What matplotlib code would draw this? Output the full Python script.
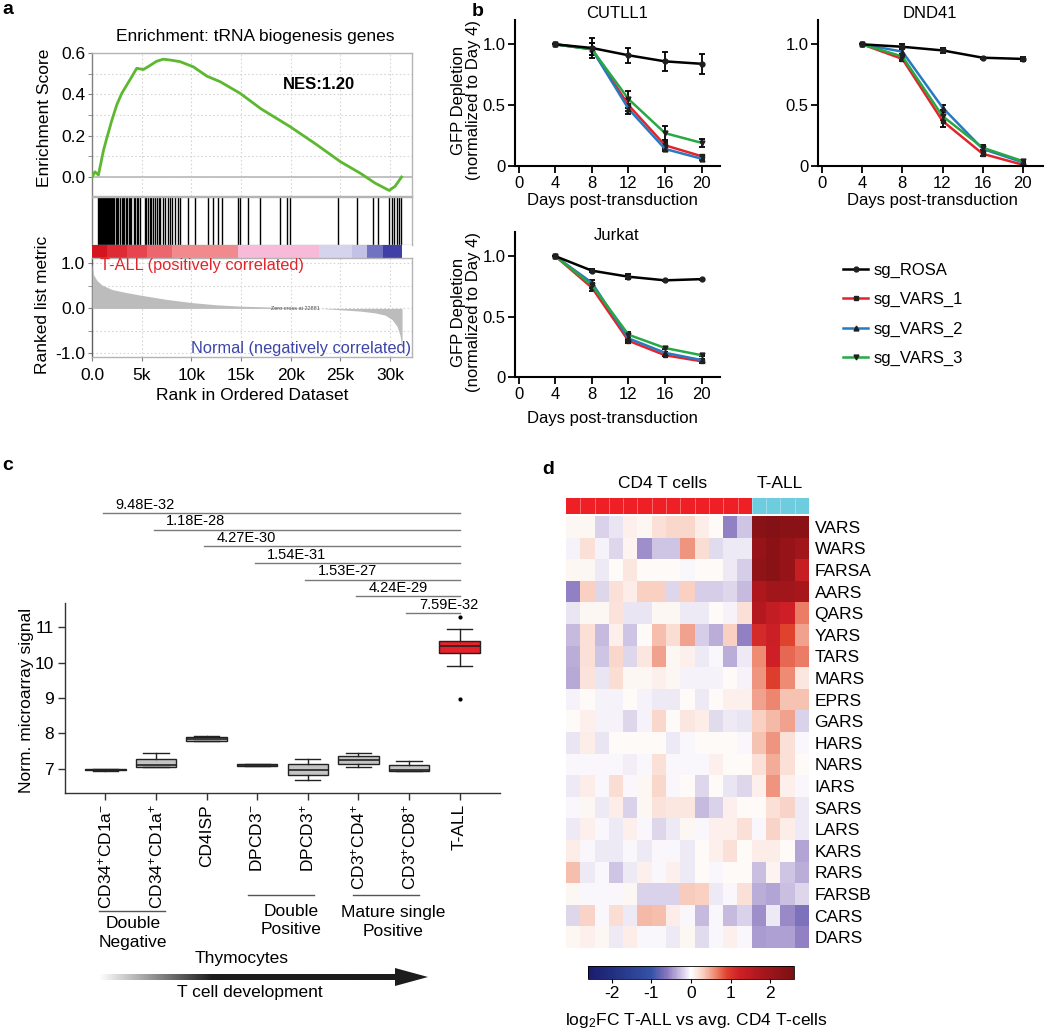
import numpy as np
import matplotlib.pyplot as plt
from matplotlib import font_manager
from matplotlib.colors import LinearSegmentedColormap, ListedColormap
from matplotlib.patches import Polygon

plt.rcParams['font.family'] = ['Liberation Sans', 'DejaVu Sans']
plt.rcParams['mathtext.fontset'] = 'custom'
plt.rcParams['mathtext.rm'] = 'Liberation Sans'
plt.rcParams['mathtext.it'] = 'Liberation Sans:italic'
plt.rcParams['mathtext.bf'] = 'Liberation Sans:bold'
plt.rcParams['axes.linewidth'] = 1.0

# panel b uses a condensed face in the original
_names = {f.name for f in font_manager.fontManager.ttflist}
if 'Liberation Sans Narrow' in _names:
    NARROW, BSIZE = 'Liberation Sans Narrow', 13
else:
    NARROW, BSIZE = 'Liberation Sans', 11.5

# ---------------- panel a : GSEA ----------------
es_rank = [0, 300, 650, 1160, 1500, 2000, 2500, 3000, 3500, 4000, 4500, 5170, 5850,
           6500, 7180, 8000, 8870, 10200, 11560, 12900, 14900, 17000, 19950, 22500,
           25000, 27000, 28500, 29900, 30500, 31150]
es_val = [0.0, 0.025, 0.01, 0.13, 0.19, 0.275, 0.35, 0.405, 0.445, 0.485, 0.526, 0.52,
          0.54, 0.56, 0.57, 0.565, 0.558, 0.533, 0.488, 0.461, 0.405, 0.33, 0.243, 0.16,
          0.074, 0.018, -0.03, -0.065, -0.045, 0.0]
hit_ranks = [640, 720, 800, 950, 1050, 1150, 1230, 1300, 1420, 1500, 1620, 1700, 1780,
             1900, 2050, 2150, 2250, 2400, 2500, 2600, 2850, 3000, 3100, 3250, 3400, 3480,
             3700, 3800, 3950, 4200, 4350, 4500, 4600, 4800, 5300, 5450, 5600, 5800, 5950,
             6100, 6300, 6500, 6700, 6850, 7100, 7300, 7600, 7850, 8100, 8400, 8700, 8900,
             9650, 10400, 11700, 12200, 12700, 13050, 14700, 14900, 15700, 16900, 18900,
             19600, 19950, 24800, 26650, 28300, 28750, 29900, 30150, 30400, 30650, 30900,
             31100]
metric_rank = [0, 150, 500, 1000, 2000, 3500, 5000, 7500, 10000, 12500, 15000, 18000,
               20000, 22881, 25000, 27000, 28500, 29500, 30200, 30700, 31000, 31200]
metric_val = [1.0, 0.75, 0.62, 0.52, 0.42, 0.35, 0.29, 0.2, 0.13, 0.08, 0.05, 0.03, 0.02,
              0.0, -0.03, -0.06, -0.1, -0.15, -0.25, -0.4, -0.6, -0.9]
band_edges = [0, 1500, 3500, 5500, 8000, 14700, 22800, 26200, 27700, 29300, 31200]
band_colors = ['#d3141f', '#dd2a35', '#e6444f', '#ec6670', '#f18a8c', '#f7bad8',
               '#d6d3ee', '#c3c1e6', '#7272c2', '#3f3fa6']

# ---------------- panel b : GFP depletion ----------------
days = [4, 8, 12, 16, 20]
guides = ['sg_ROSA', 'sg_VARS_1', 'sg_VARS_2', 'sg_VARS_3']
cutll1_mean = [[1.0, 0.97, 0.91, 0.86, 0.84],
               [1.0, 0.96, 0.50, 0.17, 0.08],
               [1.0, 0.96, 0.47, 0.14, 0.06],
               [1.0, 0.96, 0.55, 0.27, 0.19]]
cutll1_sd = [[0, 0.08, 0.06, 0.08, 0.08],
             [0, 0.05, 0.05, 0.03, 0.01],
             [0, 0.05, 0.04, 0.02, 0.01],
             [0, 0.05, 0.07, 0.06, 0.03]]
dnd41_mean = [[1.0, 0.98, 0.95, 0.89, 0.88],
              [1.0, 0.88, 0.37, 0.10, 0.01],
              [1.0, 0.94, 0.48, 0.14, 0.03],
              [1.0, 0.90, 0.41, 0.15, 0.04]]
dnd41_sd = [[0, 0.02, 0.02, 0.01, 0.02],
            [0, 0.02, 0.05, 0.02, 0.02],
            [0, 0.02, 0.02, 0.02, 0.01],
            [0, 0.02, 0.03, 0.02, 0.01]]
jurkat_mean = [[1.0, 0.88, 0.83, 0.80, 0.81],
               [1.0, 0.74, 0.30, 0.18, 0.13],
               [1.0, 0.78, 0.32, 0.20, 0.14],
               [1.0, 0.76, 0.35, 0.24, 0.18]]
jurkat_sd = [[0, 0.015, 0.02, 0.005, 0.005],
             [0, 0.03, 0.015, 0.01, 0.01],
             [0, 0.02, 0.02, 0.01, 0.01],
             [0, 0.02, 0.02, 0.01, 0.005]]
guide_colors = ['black', '#e3242b', '#2a78c0', '#27a844']
guide_markers = ['o', 's', '^', 'v']

# ---------------- panel c : boxplots ----------------
c_groups = ['CD34$^{+}$CD1a$^{-}$', 'CD34$^{+}$CD1a$^{+}$', 'CD4ISP', 'DPCD3$^{-}$',
            'DPCD3$^{+}$', 'CD3$^{+}$CD4$^{+}$', 'CD3$^{+}$CD8$^{+}$', 'T-ALL']
c_med = [6.97, 7.10, 7.85, 7.11, 6.98, 7.26, 6.96, 10.47]
c_q1 = [6.955, 7.06, 7.80, 7.09, 6.84, 7.13, 6.94, 10.28]
c_q3 = [6.985, 7.29, 7.91, 7.14, 7.15, 7.37, 7.10, 10.62]
c_lo = [6.95, 7.05, 7.78, 7.08, 6.70, 7.04, 6.94, 9.89]
c_hi = [6.99, 7.45, 7.93, 7.15, 7.29, 7.46, 7.22, 10.94]
c_fliers = [[], [], [], [], [], [], [], [11.28, 8.97]]
c_pvals = ['9.48E-32', '1.18E-28', '4.27E-30', '1.54E-31', '1.53E-27', '4.24E-29', '7.59E-32']

# ---------------- panel d : heatmap ----------------
genes = ['VARS', 'WARS', 'FARSA', 'AARS', 'QARS', 'YARS', 'TARS', 'MARS', 'EPRS', 'GARS',
         'HARS', 'NARS', 'IARS', 'SARS', 'LARS', 'KARS', 'RARS', 'FARSB', 'CARS', 'DARS']
n_cd4 = 13
n_tall = 4
hm_values = [
    [0.05, 0.05, -0.2, -0.12, 0.1, 0.05, 0.2, 0.25, 0.25, 0.12, 0.03, -0.55, -0.25, 2.35, 2.4, 2.35, 2.3],
    [-0.05, 0.2, -0.05, -0.18, 0.08, -0.5, -0.25, -0.25, 0.55, 0.22, -0.15, -0.1, -0.1, 2.1, 2.3, 2.1, 1.9],
    [0.05, 0.05, -0.1, 0.03, 0.15, 0.04, 0.04, 0.04, -0.04, 0.04, 0.04, -0.1, -0.22, 2.2, 2.35, 2.1, 1.3],
    [-0.55, 0.3, -0.18, 0.2, 0.12, 0.3, 0.3, -0.18, 0.3, -0.22, -0.22, -0.18, -0.3, 1.7, 1.9, 1.9, 1.8],
    [-0.12, 0.05, 0.05, 0.17, -0.12, -0.12, 0.05, 0.05, -0.1, -0.1, 0.04, -0.05, 0.2, 1.6, 1.4, 1.2, 0.65],
    [-0.3, 0.2, -0.3, 0.1, -0.25, 0.04, 0.38, 0.22, 0.5, -0.22, -0.35, 0.3, -0.55, 1.1, 1.25, 0.9, 0.5],
    [-0.35, 0.2, -0.25, 0.25, -0.18, 0.15, 0.5, 0.05, 0.1, -0.1, -0.04, -0.35, -0.1, 0.6, 1.2, 0.75, 0.65],
    [-0.38, 0.18, -0.12, 0.22, 0.06, 0.06, 0.1, 0.06, -0.05, -0.05, -0.05, 0.03, -0.05, 0.55, 0.95, 0.6, 0.15],
    [-0.05, 0.04, -0.05, -0.05, 0.04, -0.05, -0.1, -0.1, 0.04, -0.1, 0.04, 0.1, 0.1, 0.5, 0.62, 0.35, 0.35],
    [0.04, 0.1, -0.05, -0.05, -0.18, -0.05, 0.25, 0.04, 0.15, 0.12, -0.15, -0.1, -0.12, 0.3, 0.4, 0.5, -0.2],
    [-0.12, 0.12, -0.12, 0.04, 0.04, 0.04, 0.04, -0.1, -0.03, 0.04, 0.04, 0.04, -0.04, 0.35, 0.55, 0.2, -0.04],
    [-0.04, -0.04, -0.04, -0.04, -0.08, -0.04, 0.2, -0.04, -0.04, -0.04, 0.1, 0.04, 0.04, 0.2, 0.45, 0.2, 0.04],
    [-0.1, 0.12, -0.04, 0.22, -0.04, 0.06, 0.25, -0.04, 0.04, -0.18, 0.04, -0.12, -0.18, 0.1, 0.55, 0.1, -0.04],
    [-0.04, 0.06, -0.1, 0.12, -0.2, 0.05, 0.18, 0.15, 0.15, -0.3, -0.2, 0.1, 0.04, 0.04, 0.2, 0.28, -0.1],
    [-0.1, 0.1, -0.04, -0.1, 0.1, -0.04, -0.18, -0.1, 0.05, -0.04, 0.1, 0.1, 0.2, -0.04, 0.28, 0.12, -0.1],
    [0.12, -0.04, -0.1, -0.1, -0.04, -0.1, -0.04, -0.04, -0.1, 0.04, 0.1, 0.2, 0.04, 0.12, 0.12, 0.04, -0.4],
    [0.38, -0.1, -0.04, -0.25, -0.1, 0.1, -0.04, 0.1, -0.1, 0.04, -0.04, 0.04, 0.04, -0.28, 0.08, -0.25, -0.35],
    [0.05, -0.04, -0.04, -0.04, 0.05, -0.2, -0.2, -0.2, 0.32, 0.3, -0.1, -0.04, 0.2, -0.35, -0.4, -0.28, -0.18],
    [-0.18, 0.28, -0.04, 0.22, -0.1, 0.4, 0.38, 0.12, -0.04, -0.3, -0.04, -0.3, -0.2, -0.5, -0.1, -0.52, -0.66],
    [0.05, 0.1, 0.05, -0.1, 0.12, -0.04, -0.04, -0.1, 0.05, -0.15, -0.04, 0.1, -0.04, -0.44, -0.42, -0.42, -0.55],
]

W, H = 1050, 1032
fig = plt.figure(figsize=(W / 100, H / 100), dpi=100)


def px_axes(l, t, r, b):
    # axes placed by pixel edges (top-left origin)
    return fig.add_axes([l / W, 1 - b / H, (r - l) / W, (b - t) / H])


# ===== panel a =====
gcol = '#b4b4b4'
ax_es = px_axes(92, 53, 412, 196)
ax_es.plot(es_rank, es_val, color='#5cb82e', lw=2, zorder=3)
ax_es.axhline(0, color='#bdbdbd', lw=1.3, zorder=2)
ax_es.set_xlim(0, 32200)
ax_es.set_ylim(-0.092, 0.6)
ax_es.set_yticks([0, 0.2, 0.4, 0.6])
ax_es.set_yticklabels(['0.0', '0.2', '0.4', '0.6'], fontsize=12.5)
ax_es.set_yticks(np.arange(0.1, 0.6, 0.2), minor=True)
ax_es.set_xticks(range(5000, 31000, 5000))
ax_es.tick_params(axis='x', length=0, labelbottom=False)
ax_es.tick_params(axis='y', which='both', length=3, color='#808080', pad=2)
ax_es.grid(which='both', ls=(0, (1.5, 2)), color='#d6d6d6', lw=0.8)
for s in ax_es.spines.values():
    s.set_color(gcol)
ax_es.spines['left'].set_color('#808080')
ax_es.text(0.71, 0.78, 'NES:1.20', transform=ax_es.transAxes, fontsize=12,
           fontweight='bold', ha='center', va='center')

ax_hit = px_axes(92, 197, 412, 245)
ax_hit.vlines(hit_ranks, 0, 1, color='black', lw=1)
ax_hit.set_xlim(0, 32200)
ax_hit.set_ylim(0, 1)
ax_hit.set_xticks([])
ax_hit.set_yticks([])
for s in ax_hit.spines.values():
    s.set_color(gcol)
ax_hit.spines['left'].set_color('#808080')

ax_band = px_axes(92, 245, 412, 258)
for i, c in enumerate(band_colors):
    ax_band.axvspan(band_edges[i], band_edges[i + 1], color=c, lw=0)
ax_band.set_xlim(0, 32200)
ax_band.set_xticks([])
ax_band.set_yticks([])
for s in ax_band.spines.values():
    s.set_visible(False)

ax_m = px_axes(92, 258, 412, 357)
ax_m.fill_between(metric_rank, metric_val, 0, color='#bcbcbc', lw=0, zorder=3)
ax_m.set_xlim(0, 32200)
ax_m.set_ylim(-1.08, 1.12)
ax_m.set_yticks([-1, 0, 1])
ax_m.set_yticklabels(['-1.0', '0.0', '1.0'], fontsize=12.5)
ax_m.set_yticks([-0.5, 0.5], minor=True)
ax_m.set_xticks(range(0, 31000, 5000))
ax_m.set_xticklabels(['0.0', '5k', '10k', '15k', '20k', '25k', '30k'], fontsize=12.5)
ax_m.tick_params(axis='both', which='both', length=3, color='#808080', pad=5)
ax_m.tick_params(axis='y', pad=2)
ax_m.grid(which='both', ls=(0, (1.5, 2)), color='#d6d6d6', lw=0.8)
for s in ax_m.spines.values():
    s.set_color(gcol)
ax_m.spines['left'].set_color('#606060')
ax_m.text(22881, 0, 'Zero cross at 22881', fontsize=4, ha='right', va='center',
          color='#505050', zorder=4)
ax_m.text(800, 0.96, 'T-ALL (positively correlated)', color='#e2252b', fontsize=11.8,
          ha='left', va='center', zorder=4)
ax_m.text(32100, -0.88, 'Normal (negatively correlated)', color='#3c45a8', fontsize=11.8,
          ha='right', va='center', zorder=4)

# ===== panel b =====
def growth_panel(ax, means, sds):
    for k in range(len(guides)):
        ax.errorbar(days, means[k], yerr=sds[k], color=guide_colors[k], lw=1.8,
                    marker=guide_markers[k], ms=3.5, mfc='#202020', mec='#202020',
                    ecolor='black', elinewidth=1.3, capsize=2.2, capthick=1.3,
                    label=guides[k], zorder=3 if k == 0 else 2)
    ax.set_xlim(-0.4, 22)
    ax.set_ylim(0, 1.2)
    ax.set_xticks([0, 4, 8, 12, 16, 20])
    ax.set_yticks([0, 0.5, 1.0])
    ax.set_yticklabels(['0', '0.5', '1.0'])
    for lab in ax.get_xticklabels() + ax.get_yticklabels():
        lab.set_family(NARROW)
        lab.set_fontsize(BSIZE + 0.5)
    ax.tick_params(length=5, width=1.3, pad=2)
    ax.patch.set_alpha(0)
    ax.spines['top'].set_visible(False)
    ax.spines['right'].set_visible(False)
    ax.spines['left'].set_linewidth(1.5)
    ax.spines['bottom'].set_linewidth(1.5)


ax_b1 = px_axes(515, 20, 720, 166)
growth_panel(ax_b1, cutll1_mean, cutll1_sd)
ax_b2 = px_axes(818, 20, 1043, 166)
growth_panel(ax_b2, dnd41_mean, dnd41_sd)
ax_b3 = px_axes(515, 232, 720, 377)
growth_panel(ax_b3, jurkat_mean, jurkat_sd)
handles, labels = ax_b3.get_legend_handles_labels()
handles = [h[0] for h in handles]
fig.legend(handles, labels, loc='upper left', bbox_to_anchor=(828 / W, 1 - 248 / H),
           frameon=False, handlelength=1.5, labelspacing=0.85, handletextpad=0.35,
           prop={'family': NARROW, 'size': BSIZE + 0.5})

# ===== panel c =====
ax_c = px_axes(65, 603, 500, 793)
stats = []
for i in range(len(c_groups)):
    stats.append(dict(med=c_med[i], q1=c_q1[i], q3=c_q3[i], whislo=c_lo[i],
                      whishi=c_hi[i], fliers=c_fliers[i]))
pos = np.arange(1, len(c_groups) + 1)
bp = ax_c.bxp(stats, positions=pos, widths=0.8, patch_artist=True,
              boxprops=dict(edgecolor='#222222', lw=1.0),
              medianprops=dict(color='#222222', lw=1.2),
              whiskerprops=dict(color='#222222', lw=1.0),
              capprops=dict(color='#222222', lw=1.0),
              flierprops=dict(marker='o', ms=2, mfc='black', mec='black'))
for i, box in enumerate(bp['boxes']):
    box.set_facecolor('#e8202a' if c_groups[i] == 'T-ALL' else '#c4c4c4')
for cap in bp['caps']:
    xd = cap.get_xdata()
    mid = (xd[0] + xd[1]) / 2
    cap.set_xdata([mid - 0.25, mid + 0.25])
ax_c.set_xlim(0.2, 8.8)
ax_c.set_ylim(6.32, 11.68)
ax_c.set_yticks([7, 8, 9, 10, 11])
ax_c.set_yticklabels(['7', '8', '9', '10', '11'], fontsize=12.5)
ax_c.set_xticks(pos)
ax_c.set_xticklabels(c_groups, rotation=90, fontsize=12.5)
ax_c.tick_params(length=5, width=1, pad=3, color='#333333')
ax_c.spines['top'].set_visible(False)
ax_c.spines['right'].set_visible(False)
ax_c.spines['left'].set_color('#333333')
ax_c.spines['bottom'].set_color('#333333')
for i, p in enumerate(c_pvals):
    level = 14.22 - 0.47 * i
    ax_c.plot([pos[i] - 0.05, pos[-1]], [level, level], color='#7a7a7a', lw=1,
              clip_on=False)
    ax_c.text(pos[i] + 0.2, level + 0.04, p, fontsize=10.5, ha='left', va='bottom',
              clip_on=False)

# ===== panel d =====
cnodes = [(-2.6, '#1b1c6b'), (-2.0, '#222f80'), (-1.0, '#3552a6'), (-0.6, '#8a78bf'),
          (-0.3, '#c6badf'), (0.0, '#ffffff'), (0.3, '#f9d0c2'), (0.6, '#ee8c74'),
          (0.9, '#e0432e'), (1.2, '#cf2027'), (1.8, '#a8171c'), (2.6, '#7a1013')]
hm_cmap = LinearSegmentedColormap.from_list(
    'fc', [((v + 2.6) / 5.2, c) for v, c in cnodes])

ax_top = px_axes(566, 498, 809, 514)
ax_top.imshow([[0] * n_cd4 + [1] * n_tall], cmap=ListedColormap(['#ee1f25', '#6dccdd']),
              aspect='auto', vmin=0, vmax=1)
ax_top.vlines(np.arange(0.5, n_cd4 + n_tall - 1), -0.5, 0.5, color='white', lw=0.4,
              alpha=0.6)
ax_top.axis('off')

ax_d = px_axes(566, 516, 809, 948)
im = ax_d.imshow(np.array(hm_values), cmap=hm_cmap, vmin=-2.6, vmax=2.6,
                 aspect='auto', interpolation='nearest')
ax_d.set_xticks([])
ax_d.set_yticks(range(len(genes)))
ax_d.set_yticklabels(genes, fontsize=12.5)
ax_d.yaxis.tick_right()
ax_d.tick_params(axis='y', length=0, pad=4)
for s in ax_d.spines.values():
    s.set_visible(False)

cax = px_axes(588, 966, 794, 979)
cb = fig.colorbar(im, cax=cax, orientation='horizontal', ticks=[-2, -1, 0, 1, 2])
cb.ax.set_xticklabels(['-2', '-1', '0', '1', '2'], fontsize=12.5)
cb.ax.tick_params(length=3, width=0.8, pad=2)
cb.outline.set_linewidth(0.6)

# ===== overlay for labels and annotations (pixel coordinates) =====
ov = px_axes(0, 0, W, H)
ov.axis('off')

# shaded arrow for T cell development
grad_cmap = LinearSegmentedColormap.from_list('g', [(0, 'white'), (0.38, '#1c1c1c'),
                                                    (1, '#1c1c1c')])
ov.imshow(np.linspace(0, 1, 256)[None, :], cmap=grad_cmap, aspect='auto',
          extent=(99, 396, 980, 974))
ov.add_patch(Polygon([(395, 968), (428, 977), (395, 986)], closed=True,
                     color='#1c1c1c', lw=0))
ov.set_xlim(0, W)
ov.set_ylim(H, 0)

T = dict(ha='center', va='center')
ov.text(8, 10, 'a', fontsize=14, fontweight='bold', **T)
ov.text(478, 12, 'b', fontsize=14, fontweight='bold', **T)
ov.text(8, 466, 'c', fontsize=14, fontweight='bold', **T)
ov.text(548, 469, 'd', fontsize=14, fontweight='bold', **T)

ov.text(255, 36, 'Enrichment: tRNA biogenesis genes', fontsize=12.5, **T)
ov.text(45, 118, 'Enrichment Score', fontsize=12.5, rotation=90, **T)
ov.text(43, 305, 'Ranked list metric', fontsize=12.5, rotation=90, **T)
ov.text(252, 395, 'Rank in Ordered Dataset', fontsize=12.5, **T)

bt = dict(fontsize=BSIZE + 0.5, family=NARROW, ha='center', va='center')
ov.text(617, 14, 'CUTLL1', **bt)
ov.text(930, 14, 'DND41', **bt)
ov.text(617, 236, 'Jurkat', **bt)
ov.text(612, 200, 'Days post-transduction', **bt)
ov.text(932, 200, 'Days post-transduction', **bt)
ov.text(612, 418, 'Days post-transduction', **bt)
ov.text(466, 100, 'GFP Depletion\n(normalized to Day 4)', rotation=90, linespacing=1.0,
        **bt)
ov.text(466, 312, 'GFP Depletion\n(normalized to Day 4)', rotation=90, linespacing=1.0,
        **bt)

ov.text(27, 700, 'Norm. microarray signal', fontsize=12.5, rotation=90, **T)
ov.plot([99, 165], [911, 911], color='#555555', lw=1)
ov.text(133, 933, 'Double\nNegative', fontsize=12.5, linespacing=1.25, **T)
ov.plot([248, 314], [895, 895], color='#555555', lw=1)
ov.text(291, 921, 'Double\nPositive', fontsize=12.5, linespacing=1.25, **T)
ov.plot([353, 419], [895, 895], color='#555555', lw=1)
ov.text(393, 922, 'Mature single\nPositive', fontsize=12.5, linespacing=1.25, **T)
ov.text(242, 958, 'Thymocytes', fontsize=12.5, **T)
ov.text(250, 993, 'T cell development', fontsize=12.5, **T)

ov.text(663, 484, 'CD4 T cells', fontsize=12.5, **T)
ov.text(780, 484, 'T-ALL', fontsize=12.5, **T)
ov.text(565, 1020, 'log$_2$FC T-ALL vs avg. CD4 T-cells', fontsize=12.5, ha='left',
        va='center')

plt.savefig('out.png', dpi=100)
